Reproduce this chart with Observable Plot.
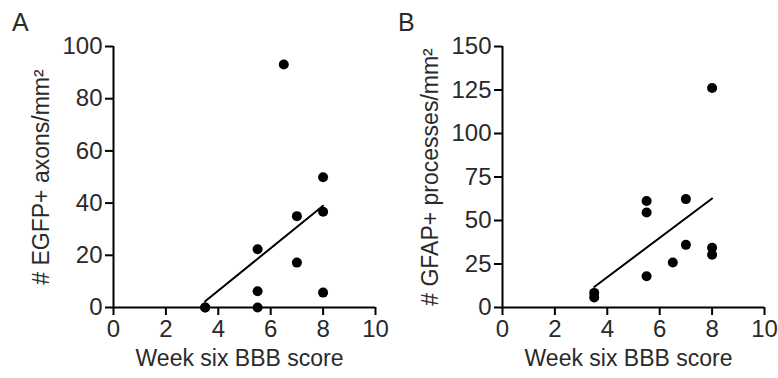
<!DOCTYPE html>
<html>
<head>
<meta charset="utf-8">
<script src="https://cdn.jsdelivr.net/npm/d3@7"></script>
<script src="https://cdn.jsdelivr.net/npm/@observablehq/plot@0.6"></script>
<style>
  html, body { margin: 0; padding: 0; background: #fff; }
  #wrap { position: relative; width: 778px; height: 378px; font-family: "Liberation Sans", Arial, sans-serif; color: #2a2a2a; }
  .panel { position: absolute; top: 0; }
  .tag { position: absolute; font-size: 25px; top: 8px; }
</style>
</head>
<body>
<div id="wrap">
  <div class="panel" id="pa" style="left:0px"></div>
  <div class="panel" id="pb" style="left:389px"></div>
  <div class="tag" style="left:12px">A</div>
  <div class="tag" style="left:398px">B</div>
</div>
<script>
// Panel A: EGFP+ axons
const scoreA = [3.5, 3.5, 5.5, 5.5, 5.5, 6.5, 7, 7, 8, 8, 8];
const axonsA = [0, 0, 0, 6.2, 22.3, 93.1, 35.0, 17.2, 49.9, 36.7, 5.7];
// Panel B: GFAP+ processes
const scoreB = [3.5, 3.5, 5.5, 5.5, 5.5, 6.5, 7, 7, 8, 8, 8];
const procB = [8.4, 5.8, 61.2, 54.6, 18.0, 25.9, 62.3, 36.0, 126.2, 34.3, 30.3];

const xTicks = [0, 2, 4, 6, 8, 10];
const yTicksA = [0, 20, 40, 60, 80, 100];
const yTicksB = [0, 25, 50, 75, 100, 125, 150];

const xLabel = "Week six BBB score";
const yLabelA = "# EGFP+ axons/mm²";
const yLabelB = "# GFAP+ processes/mm²";

function panel(xs, ys, yMax, yTicks, yLabel) {
  const data = xs.map((x, i) => ({x, y: ys[i]}));
  return Plot.plot({
    width: 389,
    height: 378,
    marginLeft: 113,
    marginRight: 14,
    marginTop: 46,
    marginBottom: 71,
    style: {fontFamily: '"Liberation Sans", Arial, sans-serif', fontSize: "24px", color: "#2a2a2a", background: "transparent", overflow: "visible"},
    x: {domain: [0, 10]},
    y: {domain: [0, yMax]},
    marks: [
      Plot.axisX({ticks: xTicks, tickSize: 8, tickPadding: 4, strokeWidth: 2, stroke: "#000", label: null, fontSize: 24}),
      Plot.axisY({ticks: yTicks, tickSize: 8, tickPadding: 3, strokeWidth: 2, stroke: "#000", label: null, fontSize: 24}),
      Plot.text([xLabel], {text: d => d, frameAnchor: "bottom", textAnchor: "middle", lineAnchor: "bottom", dx: -5, dy: 58, fontSize: 23, fill: "#2a2a2a"}),
      Plot.text([yLabel], {text: d => d, frameAnchor: "left", textAnchor: "middle", lineAnchor: "middle", dx: -72, rotate: -90, fontSize: 23, fill: "#2a2a2a"}),
      Plot.ruleY([0], {stroke: "#000", strokeWidth: 2}),
      Plot.ruleX([0], {stroke: "#000", strokeWidth: 2}),
      Plot.linearRegressionY(data, {x: "x", y: "y", ci: 0, stroke: "#000", strokeWidth: 2}),
      Plot.dot(data, {x: "x", y: "y", r: 5, fill: "#000"})
    ]
  });
}

document.getElementById("pa").append(panel(scoreA, axonsA, 100, yTicksA, yLabelA));
document.getElementById("pb").append(panel(scoreB, procB, 150, yTicksB, yLabelB));
</script>
</body>
</html>
